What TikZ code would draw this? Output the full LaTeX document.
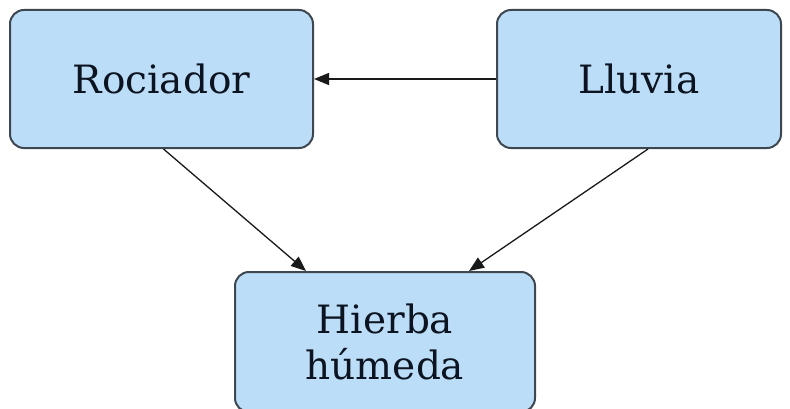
\documentclass[tikz,border=0pt]{standalone}
\usepackage{fontspec}
\setmainfont{DejaVu Serif}
\usetikzlibrary{arrows.meta,calc}
\definecolor{boxfill}{HTML}{BCDDF8}
\definecolor{boxline}{HTML}{3E464F}
\definecolor{inkdark}{HTML}{0B1420}
\tikzset{
  varbox/.style={draw=boxline, line width=2pt, fill=boxfill, rounded corners=14pt,
    align=center, font=\fontsize{39}{46}\selectfont, text=inkdark, inner sep=0pt},
  link/.style={draw=black!90, line width=1.3pt, -{Triangle[length=15pt,width=12pt]}}
}
\begin{document}
\begin{tikzpicture}[x=1pt,y=1pt]
\useasboundingbox (0,0) rectangle (790,408);
\node[varbox, minimum width=303pt, minimum height=138pt] (roc) at (161.5,329) {Rociador};
\node[varbox, minimum width=284pt, minimum height=138pt] (llu) at (639,329) {Lluvia};
\node[varbox, minimum width=300pt, minimum height=140pt] (hum) at (385,66) {Hierba\\húmeda};
\draw[link] (llu.west) -- (roc.east);
\draw[link] ($(roc.south)+(2,0)$) -- ($(hum.north)+(-79,0)$);
\draw[link] ($(llu.south)+(9,0)$) -- ($(hum.north)+(84,0)$);
\end{tikzpicture}
\end{document}
